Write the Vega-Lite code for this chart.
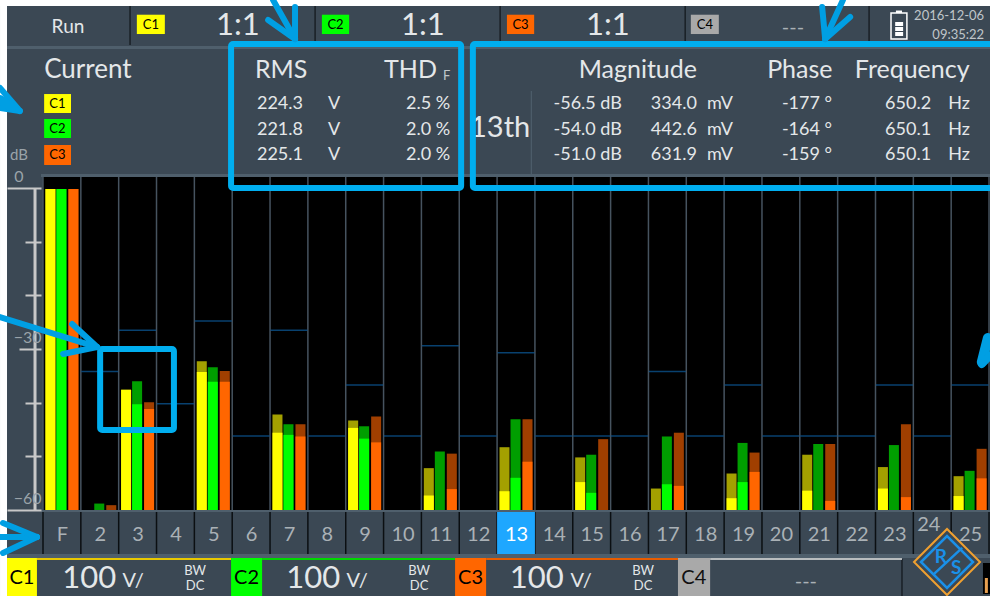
{"$schema":"https://vega.github.io/schema/vega-lite/v6.json","width":947,"height":333,"autosize":{"type":"none"},"padding":{"left":43,"top":177,"right":0,"bottom":86},"background":"#3b4854","view":{"fill":"#000000","stroke":null},
"config":{"font":"Lato","text":{"font":"Lato","baseline":"middle","align":"center","fill":"#e4e7e9","fontSize":18},"rect":{"fill":"#4f5f6c"},"rule":{"stroke":"#009fe3","strokeWidth":6,"strokeCap":"round"}},
"resolve":{"axis":{"x":"independent","y":"independent"}},
"datasets":{"edges":[{"b":0.5},{"b":1.5},{"b":2.5},{"b":3.5},{"b":4.5},{"b":5.5},{"b":6.5},{"b":7.5},{"b":8.5},{"b":9.5},{"b":10.5},{"b":11.5},{"b":12.5},{"b":13.5},{"b":14.5},{"b":15.5},{"b":16.5},{"b":17.5},{"b":18.5},{"b":19.5},{"b":20.5},{"b":21.5},{"b":22.5},{"b":23.5},{"b":24.5},{"b":25.5}],
"limits":[{"h":2,"limit":-34.2},{"h":3,"limit":-26.5},{"h":4,"limit":-40.2},{"h":5,"limit":-24.8},{"h":6,"limit":-46.2},{"h":7,"limit":-26.5},{"h":8,"limit":-46.2},{"h":9,"limit":-36.7},{"h":10,"limit":-46.2},{"h":11,"limit":-29.4},{"h":12,"limit":-46.2},{"h":13,"limit":-30.7},{"h":14,"limit":-46.2},{"h":15,"limit":-46.2},{"h":16,"limit":-46.2},{"h":17,"limit":-34.2},{"h":18,"limit":-46.2},{"h":19,"limit":-36.7},{"h":20,"limit":-46.2},{"h":21,"limit":-46.2},{"h":22,"limit":-46.2},{"h":23,"limit":-36.7},{"h":24,"limit":-46.2},{"h":25,"limit":-36.7}],
"harmonics":[
{"h":1,"ch":"C1","peak":-0.2,"current":-0.2},{"h":1,"ch":"C2","peak":-0.2,"current":-0.2},{"h":1,"ch":"C3","peak":-0.2,"current":-0.2},
{"h":2,"ch":"C2","peak":-58.8,"current":null},{"h":2,"ch":"C3","peak":-59.1,"current":null},
{"h":3,"ch":"C1","peak":-37.6,"current":-37.6},{"h":3,"ch":"C2","peak":-36.0,"current":-40.3},{"h":3,"ch":"C3","peak":-39.9,"current":-41.2},
{"h":5,"ch":"C1","peak":-32.3,"current":-34.3},{"h":5,"ch":"C2","peak":-33.4,"current":-36.1},{"h":5,"ch":"C3","peak":-34.1,"current":-36.1},
{"h":7,"ch":"C1","peak":-42.2,"current":-45.6},{"h":7,"ch":"C2","peak":-44.0,"current":-46.0},{"h":7,"ch":"C3","peak":-44.0,"current":-46.3},
{"h":9,"ch":"C1","peak":-43.3,"current":-44.7},{"h":9,"ch":"C2","peak":-44.4,"current":-46.7},{"h":9,"ch":"C3","peak":-42.6,"current":-47.4},
{"h":11,"ch":"C1","peak":-52.2,"current":-57.3},{"h":11,"ch":"C2","peak":-49.1,"current":null},{"h":11,"ch":"C3","peak":-49.5,"current":-56.1},
{"h":13,"ch":"C1","peak":-48.3,"current":-56.5},{"h":13,"ch":"C2","peak":-43.1,"current":-54.0},{"h":13,"ch":"C3","peak":-43.1,"current":-51.0},
{"h":15,"ch":"C1","peak":-50.2,"current":-54.8},{"h":15,"ch":"C2","peak":-49.7,"current":-56.8},{"h":15,"ch":"C3","peak":-46.8,"current":null},
{"h":17,"ch":"C1","peak":-56.0,"current":null},{"h":17,"ch":"C2","peak":-46.3,"current":-55.2},{"h":17,"ch":"C3","peak":-45.6,"current":-55.5},
{"h":19,"ch":"C1","peak":-53.2,"current":-57.8},{"h":19,"ch":"C2","peak":-47.5,"current":-54.8},{"h":19,"ch":"C3","peak":-49.3,"current":-52.9},
{"h":21,"ch":"C1","peak":-49.7,"current":-56.4},{"h":21,"ch":"C2","peak":-47.7,"current":null},{"h":21,"ch":"C3","peak":-47.7,"current":-58.3},
{"h":23,"ch":"C1","peak":-52.0,"current":-56.0},{"h":23,"ch":"C2","peak":-47.9,"current":null},{"h":23,"ch":"C3","peak":-44.0,"current":-57.6},
{"h":25,"ch":"C1","peak":-53.7,"current":-57.4},{"h":25,"ch":"C2","peak":-52.7,"current":null},{"h":25,"ch":"C3","peak":-48.6,"current":-54.1}]},
"data":{"values":[{}]},
"layer":[
{"data":{"name":"edges"},"mark":{"type":"rule","stroke":"#46535f","strokeWidth":1.5,"strokeCap":"butt"},"encoding":{
"x":{"field":"b","type":"quantitative","title":null,"scale":{"domain":[0.5,25.526],"nice":false,"zero":false,"padding":0},"axis":{"zindex":1,"values":[1,2,3,4,5,6,7,8,9,10,11,12,13,14,15,16,17,18,19,20,21,22,23,24,25],"format":"d","labelExpr":"datum.value==1?'F':datum.label","labelFontSize":20,"labelFont":"Lato","labelColor":{"condition":{"test":"datum.value==13","value":"#ffffff"},"value":"#aab1b6"},"labelPadding":{"condition":{"test":"datum.value==24","value":4},"value":14},"labelOffset":{"condition":{"test":"datum.value==24","value":-4},"value":0},"ticks":false,"domain":false,"grid":false,"labelOverlap":false,"labelFlush":false,"labelBound":false,"title":null}},
"y":{"datum":2.05,"title":null,"scale":{"domain":[-60,2.05],"nice":false,"zero":false},"axis":{"zindex":1,"offset":2,"values":[0,-10,-20,-30,-40,-50,-60],"labelExpr":"datum.value%30==0?datum.label:''","labelFontSize":16,"labelFont":"Lato","labelColor":"#9aa3a9","labelOffset":-12,"labelPadding":{"condition":{"test":"datum.value==0","value":-16},"value":{"expr":"0"}},"domain":false,"grid":false,"tickColor":"#c8c8c8","tickWidth":2,"tickSize":{"condition":[{"test":"datum.value==0||datum.value==-60","value":34},{"test":"datum.value==-30","value":22}],"value":16},"labelOverlap":false,"labelFlush":false,"labelBound":false,"title":null}},
"y2":{"datum":-60}}},
{"data":{"name":"edges"},"mark":{"type":"rule","stroke":"#0b0f12","strokeWidth":1.5,"strokeCap":"butt"},"encoding":{"x":{"field":"b","type":"quantitative","axis":null},"y":{"datum":-60.37,"axis":null},"y2":{"datum":-68.19}}},
{"data":{"name":"limits"},"mark":{"type":"tick","orient":"horizontal","size":37,"thickness":1.5,"color":"#0b5c9e"},"encoding":{"x":{"field":"h","type":"quantitative","axis":null},"y":{"field":"limit","type":"quantitative","axis":null}}},
{"data":{"name":"harmonics"},"transform":[{"filter":"datum.ch=='C1'"}],"mark":{"type":"bar","size":10,"xOffset":-11.5,"color":"#a3a000"},"encoding":{"x":{"field":"h","type":"quantitative","axis":null},"y":{"field":"peak","type":"quantitative","axis":null},"y2":{"datum":-60}}},
{"data":{"name":"harmonics"},"transform":[{"filter":"datum.ch=='C1'&&datum.current!=null"}],"mark":{"type":"bar","size":10,"xOffset":-11.5,"color":"#ffff00"},"encoding":{"x":{"field":"h","type":"quantitative","axis":null},"y":{"field":"current","type":"quantitative","axis":null},"y2":{"datum":-60}}},
{"data":{"name":"harmonics"},"transform":[{"filter":"datum.ch=='C2'"}],"mark":{"type":"bar","size":10,"xOffset":-0.5,"color":"#009e00"},"encoding":{"x":{"field":"h","type":"quantitative","axis":null},"y":{"field":"peak","type":"quantitative","axis":null},"y2":{"datum":-60}}},
{"data":{"name":"harmonics"},"transform":[{"filter":"datum.ch=='C2'&&datum.current!=null"}],"mark":{"type":"bar","size":10,"xOffset":-0.5,"color":"#00ff00"},"encoding":{"x":{"field":"h","type":"quantitative","axis":null},"y":{"field":"current","type":"quantitative","axis":null},"y2":{"datum":-60}}},
{"data":{"name":"harmonics"},"transform":[{"filter":"datum.ch=='C3'"}],"mark":{"type":"bar","size":10,"xOffset":11.5,"color":"#a03f00"},"encoding":{"x":{"field":"h","type":"quantitative","axis":null},"y":{"field":"peak","type":"quantitative","axis":null},"y2":{"datum":-60}}},
{"data":{"name":"harmonics"},"transform":[{"filter":"datum.ch=='C3'&&datum.current!=null"}],"mark":{"type":"bar","size":10,"xOffset":11.5,"color":"#ff6600"},"encoding":{"x":{"field":"h","type":"quantitative","axis":null},"y":{"field":"current","type":"quantitative","axis":null},"y2":{"datum":-60}}},

{"mark":{"type":"rect","fill":"#1ea7ff"},"encoding":{"x":{"datum":12.5,"axis":null},"x2":{"datum":13.5},"y":{"datum":-60.37,"axis":null},"y2":{"datum":-68.19}}},
{"mark":"rect","encoding":{"x":{"datum":-0.451,"axis":null},"x2":{"datum":25.53},"y":{"datum":26.46,"axis":null},"y2":{"datum":25.9}}},
{"mark":"rect","encoding":{"x":{"datum":0.447,"axis":null},"x2":{"datum":25.53},"y":{"datum":2.61,"axis":null},"y2":{"datum":2.05}}},
{"mark":"rect","encoding":{"x":{"datum":0.447,"axis":null},"x2":{"datum":25.53},"y":{"datum":-60,"axis":null},"y2":{"datum":-60.37}}},
{"mark":"rect","encoding":{"x":{"datum":-0.451,"axis":null},"x2":{"datum":25.53},"y":{"datum":-68.19,"axis":null},"y2":{"datum":-68.94}}},
{"mark":"rect","encoding":{"x":{"datum":13.39,"axis":null},"x2":{"datum":13.42},"y":{"datum":18.07,"axis":null},"y2":{"datum":2.42}}},
{"mark":{"type":"rule","stroke":"#c8c8c8","strokeWidth":3,"strokeCap":"butt"},"encoding":{"x":{"datum":0.289,"axis":null},"y":{"datum":0,"axis":null},"y2":{"datum":-60}}},

{"mark":{"type":"rule","stroke":"#11161a","strokeWidth":1.2,"strokeCap":"butt"},"encoding":{"x":{"datum":2.8,"axis":null},"y":{"datum":33.91,"axis":null},"y2":{"datum":26.64}}},
{"mark":{"type":"rule","stroke":"#11161a","strokeWidth":1.2,"strokeCap":"butt"},"encoding":{"x":{"datum":7.69,"axis":null},"y":{"datum":33.91,"axis":null},"y2":{"datum":26.64}}},
{"mark":{"type":"rule","stroke":"#11161a","strokeWidth":1.2,"strokeCap":"butt"},"encoding":{"x":{"datum":12.58,"axis":null},"y":{"datum":33.91,"axis":null},"y2":{"datum":26.64}}},
{"mark":{"type":"rule","stroke":"#11161a","strokeWidth":1.2,"strokeCap":"butt"},"encoding":{"x":{"datum":17.47,"axis":null},"y":{"datum":33.91,"axis":null},"y2":{"datum":26.64}}},
{"mark":{"type":"rule","stroke":"#11161a","strokeWidth":1.2,"strokeCap":"butt"},"encoding":{"x":{"datum":22.33,"axis":null},"y":{"datum":33.91,"axis":null},"y2":{"datum":26.64}}},
{"mark":{"type":"rule","stroke":"#11161a","strokeWidth":1.2,"strokeCap":"butt"},"encoding":{"x":{"datum":23.2,"axis":null},"y":{"datum":-69.13,"axis":null},"y2":{"datum":-76.02}}},

{"mark":{"type":"rect","fill":"#ffff00"},"encoding":{"x":{"datum":2.98,"axis":null},"x2":{"datum":3.72},"y":{"datum":32.29,"axis":null},"y2":{"datum":28.69}}},
{"mark":{"type":"rect","fill":"#00ff00"},"encoding":{"x":{"datum":7.87,"axis":null},"x2":{"datum":8.59},"y":{"datum":32.29,"axis":null},"y2":{"datum":28.69}}},
{"mark":{"type":"rect","fill":"#ff6600"},"encoding":{"x":{"datum":12.76,"axis":null},"x2":{"datum":13.48},"y":{"datum":32.29,"axis":null},"y2":{"datum":28.69}}},
{"mark":{"type":"rect","fill":"#a9a9a9"},"encoding":{"x":{"datum":17.62,"axis":null},"x2":{"datum":18.36},"y":{"datum":32.29,"axis":null},"y2":{"datum":28.69}}},
{"mark":{"type":"rect","fill":"#ffff00"},"encoding":{"x":{"datum":0.53,"axis":null},"x2":{"datum":1.24},"y":{"datum":17.51,"axis":null},"y2":{"datum":13.97}}},
{"mark":{"type":"rect","fill":"#00ff00"},"encoding":{"x":{"datum":0.53,"axis":null},"x2":{"datum":1.24},"y":{"datum":12.86,"axis":null},"y2":{"datum":9.32}}},
{"mark":{"type":"rect","fill":"#ff6600"},"encoding":{"x":{"datum":0.53,"axis":null},"x2":{"datum":1.24},"y":{"datum":8.01,"axis":null},"y2":{"datum":4.29}}},

{"mark":{"type":"rect","fill":"#e8c800"},"encoding":{"x":{"datum":0.34,"axis":null},"x2":{"datum":5.47},"y":{"datum":-68.94,"axis":null},"y2":{"datum":-69.31}}},
{"mark":{"type":"rect","fill":"#00d800"},"encoding":{"x":{"datum":6.29,"axis":null},"x2":{"datum":11.39},"y":{"datum":-68.94,"axis":null},"y2":{"datum":-69.31}}},
{"mark":{"type":"rect","fill":"#e85c00"},"encoding":{"x":{"datum":12.21,"axis":null},"x2":{"datum":17.28},"y":{"datum":-68.94,"axis":null},"y2":{"datum":-69.31}}},
{"mark":{"type":"rect","fill":"#b8bcbe"},"encoding":{"x":{"datum":18.13,"axis":null},"x2":{"datum":23.2},"y":{"datum":-68.94,"axis":null},"y2":{"datum":-69.31}}},
{"mark":{"type":"rect","fill":"#ffff00"},"encoding":{"x":{"datum":-0.451,"axis":null},"x2":{"datum":0.34},"y":{"datum":-68.94,"axis":null},"y2":{"datum":-76.02}}},
{"mark":{"type":"rect","fill":"#00ff00"},"encoding":{"x":{"datum":5.47,"axis":null},"x2":{"datum":6.29},"y":{"datum":-68.94,"axis":null},"y2":{"datum":-76.02}}},
{"mark":{"type":"rect","fill":"#ff6600"},"encoding":{"x":{"datum":11.39,"axis":null},"x2":{"datum":12.21},"y":{"datum":-68.94,"axis":null},"y2":{"datum":-76.02}}},
{"mark":{"type":"rect","fill":"#a9a9a9"},"encoding":{"x":{"datum":17.28,"axis":null},"x2":{"datum":18.13},"y":{"datum":-68.94,"axis":null},"y2":{"datum":-76.02}}},

{"mark":{"type":"text","text":"Run","fontSize":19},"encoding":{"x":{"datum":1.16,"axis":null},"y":{"datum":30,"axis":null}}},
{"mark":{"type":"text","text":"C1","fill":"#000000","fontSize":13},"encoding":{"x":{"datum":3.35,"axis":null},"y":{"datum":30.46,"axis":null}}},
{"mark":{"type":"text","text":"C2","fill":"#000000","fontSize":13},"encoding":{"x":{"datum":8.23,"axis":null},"y":{"datum":30.46,"axis":null}}},
{"mark":{"type":"text","text":"C3","fill":"#000000","fontSize":13},"encoding":{"x":{"datum":13.12,"axis":null},"y":{"datum":30.46,"axis":null}}},
{"mark":{"type":"text","text":"C4","fill":"#000000","fontSize":13},"encoding":{"x":{"datum":17.99,"axis":null},"y":{"datum":30.46,"axis":null}}},
{"mark":{"type":"text","text":"1:1","fontSize":31},"encoding":{"x":{"datum":5.65,"axis":null},"y":{"datum":30.18,"axis":null}}},
{"mark":{"type":"text","text":"1:1","fontSize":31},"encoding":{"x":{"datum":10.54,"axis":null},"y":{"datum":30.18,"axis":null}}},
{"mark":{"type":"text","text":"1:1","fontSize":31},"encoding":{"x":{"datum":15.43,"axis":null},"y":{"datum":30.18,"axis":null}}},
{"mark":{"type":"text","text":"---","fill":"#aab1b6","fontSize":20},"encoding":{"x":{"datum":20.32,"axis":null},"y":{"datum":29.81,"axis":null}}},
{"mark":{"type":"text","text":"2016-12-06","align":"right","fill":"#c0c6ca","fontSize":13},"encoding":{"x":{"datum":25.37,"axis":null},"y":{"datum":32.05,"axis":null}}},
{"mark":{"type":"text","text":"09:35:22","align":"right","fill":"#c0c6ca","fontSize":13},"encoding":{"x":{"datum":25.37,"axis":null},"y":{"datum":28.51,"axis":null}}},
{"mark":{"type":"rect","fill":null,"stroke":"#ffffff","strokeWidth":1.5},"encoding":{"x":{"datum":22.91,"axis":null},"x2":{"datum":23.33},"y":{"datum":32.61,"axis":null},"y2":{"datum":27.76}}},
{"mark":{"type":"rect","fill":"#ffffff"},"encoding":{"x":{"datum":23.04,"axis":null},"x2":{"datum":23.2},"y":{"datum":33.07,"axis":null},"y2":{"datum":32.61}}},
{"mark":{"type":"rect","fill":"#ffffff"},"encoding":{"x":{"datum":23.02,"axis":null},"x2":{"datum":23.23},"y":{"datum":30.93,"axis":null},"y2":{"datum":30.18}}},
{"mark":{"type":"rect","fill":"#ffffff"},"encoding":{"x":{"datum":23.02,"axis":null},"x2":{"datum":23.23},"y":{"datum":30,"axis":null},"y2":{"datum":29.25}}},
{"mark":{"type":"rect","fill":"#ffffff"},"encoding":{"x":{"datum":23.02,"axis":null},"x2":{"datum":23.23},"y":{"datum":29.07,"axis":null},"y2":{"datum":28.32}}},

{"mark":{"type":"text","text":"Current","align":"left","fontSize":26},"encoding":{"x":{"datum":0.53,"axis":null},"y":{"datum":21.99,"axis":null}}},
{"mark":{"type":"text","text":"C1","fill":"#000000","fontSize":13},"encoding":{"x":{"datum":0.88,"axis":null},"y":{"datum":15.65,"axis":null}}},
{"mark":{"type":"text","text":"C2","fill":"#000000","fontSize":13},"encoding":{"x":{"datum":0.88,"axis":null},"y":{"datum":10.99,"axis":null}}},
{"mark":{"type":"text","text":"C3","fill":"#000000","fontSize":13},"encoding":{"x":{"datum":0.88,"axis":null},"y":{"datum":6.15,"axis":null}}},
{"mark":{"type":"text","text":"dB","fill":"#9aa3a9","fontSize":15},"encoding":{"x":{"datum":-0.135,"axis":null},"y":{"datum":6.15,"axis":null}}},

{"mark":{"type":"text","text":"RMS","align":"left","fontSize":25},"encoding":{"x":{"datum":6.1,"axis":null},"y":{"datum":21.99,"axis":null}}},
{"mark":{"type":"text","text":"THD","align":"right","fontSize":25},"encoding":{"x":{"datum":10.91,"axis":null},"y":{"datum":21.99,"axis":null}}},
{"mark":{"type":"text","text":"F","align":"left","fontSize":13,"fill":"#c0c6ca"},"encoding":{"x":{"datum":11.07,"axis":null},"y":{"datum":20.87,"axis":null}}},
{"mark":{"type":"text","text":["224.3","221.8","225.1"],"align":"right","lineHeight":25.5},"encoding":{"x":{"datum":7.37,"axis":null},"y":{"datum":15.65,"axis":null}}},
{"mark":{"type":"text","text":["V","V","V"],"lineHeight":25.5},"encoding":{"x":{"datum":8.19,"axis":null},"y":{"datum":15.65,"axis":null}}},
{"mark":{"type":"text","text":["2.5 %","2.0 %","2.0 %"],"align":"right","lineHeight":25.5},"encoding":{"x":{"datum":11.26,"axis":null},"y":{"datum":15.65,"axis":null}}},

{"mark":{"type":"text","text":"13th","fontSize":29},"encoding":{"x":{"datum":12.58,"axis":null},"y":{"datum":11.18,"axis":null}}},
{"mark":{"type":"text","text":"Magnitude","fontSize":25},"encoding":{"x":{"datum":16.22,"axis":null},"y":{"datum":21.99,"axis":null}}},
{"mark":{"type":"text","text":"Phase","fontSize":25},"encoding":{"x":{"datum":20.5,"axis":null},"y":{"datum":21.99,"axis":null}}},
{"mark":{"type":"text","text":"Frequency","fontSize":25},"encoding":{"x":{"datum":23.47,"axis":null},"y":{"datum":21.99,"axis":null}}},
{"mark":{"type":"text","text":["-56.5 dB","-54.0 dB","-51.0 dB"],"align":"right","lineHeight":25.5},"encoding":{"x":{"datum":15.8,"axis":null},"y":{"datum":15.65,"axis":null}}},
{"mark":{"type":"text","text":["334.0","442.6","631.9"],"align":"right","lineHeight":25.5},"encoding":{"x":{"datum":17.78,"axis":null},"y":{"datum":15.65,"axis":null}}},
{"mark":{"type":"text","text":["mV","mV","mV"],"align":"left","lineHeight":25.5},"encoding":{"x":{"datum":18.05,"axis":null},"y":{"datum":15.65,"axis":null}}},
{"mark":{"type":"text","text":["-177 °","-164 °","-159 °"],"align":"right","lineHeight":25.5},"encoding":{"x":{"datum":21.35,"axis":null},"y":{"datum":15.65,"axis":null}}},
{"mark":{"type":"text","text":["650.2","650.1","650.1"],"align":"right","lineHeight":25.5},"encoding":{"x":{"datum":23.97,"axis":null},"y":{"datum":15.65,"axis":null}}},
{"mark":{"type":"text","text":["Hz","Hz","Hz"],"align":"left","lineHeight":25.5},"encoding":{"x":{"datum":24.42,"axis":null},"y":{"datum":15.65,"axis":null}}},

{"mark":{"type":"text","text":"C1","fill":"#000000","fontSize":20},"encoding":{"x":{"datum":-0.055,"axis":null},"y":{"datum":-72.67,"axis":null}}},
{"mark":{"type":"text","text":"C2","fill":"#000000","fontSize":20},"encoding":{"x":{"datum":5.88,"axis":null},"y":{"datum":-72.67,"axis":null}}},
{"mark":{"type":"text","text":"C3","fill":"#000000","fontSize":20},"encoding":{"x":{"datum":11.8,"axis":null},"y":{"datum":-72.67,"axis":null}}},
{"mark":{"type":"text","text":"C4","fill":"#111111","fontSize":20},"encoding":{"x":{"datum":17.7,"axis":null},"y":{"datum":-72.67,"axis":null}}},
{"mark":{"type":"text","text":"100","fontSize":31},"encoding":{"x":{"datum":1.72,"axis":null},"y":{"datum":-72.9,"axis":null}}},
{"mark":{"type":"text","text":"100","fontSize":31},"encoding":{"x":{"datum":7.64,"axis":null},"y":{"datum":-72.9,"axis":null}}},
{"mark":{"type":"text","text":"100","fontSize":31},"encoding":{"x":{"datum":13.55,"axis":null},"y":{"datum":-72.9,"axis":null}}},
{"mark":{"type":"text","text":"V/","fontSize":20},"encoding":{"x":{"datum":2.88,"axis":null},"y":{"datum":-73.2,"axis":null}}},
{"mark":{"type":"text","text":"V/","fontSize":20},"encoding":{"x":{"datum":8.8,"axis":null},"y":{"datum":-73.2,"axis":null}}},
{"mark":{"type":"text","text":"V/","fontSize":20},"encoding":{"x":{"datum":14.72,"axis":null},"y":{"datum":-73.2,"axis":null}}},
{"mark":{"type":"text","text":"BW","fontSize":13},"encoding":{"x":{"datum":4.52,"axis":null},"y":{"datum":-71.36,"axis":null}}},
{"mark":{"type":"text","text":"DC","fontSize":13},"encoding":{"x":{"datum":4.52,"axis":null},"y":{"datum":-74.16,"axis":null}}},
{"mark":{"type":"text","text":"BW","fontSize":13},"encoding":{"x":{"datum":10.44,"axis":null},"y":{"datum":-71.36,"axis":null}}},
{"mark":{"type":"text","text":"DC","fontSize":13},"encoding":{"x":{"datum":10.44,"axis":null},"y":{"datum":-74.16,"axis":null}}},
{"mark":{"type":"text","text":"BW","fontSize":13},"encoding":{"x":{"datum":16.36,"axis":null},"y":{"datum":-71.36,"axis":null}}},
{"mark":{"type":"text","text":"DC","fontSize":13},"encoding":{"x":{"datum":16.36,"axis":null},"y":{"datum":-74.16,"axis":null}}},
{"mark":{"type":"text","text":"---","fill":"#aab1b6","fontSize":20},"encoding":{"x":{"datum":20.66,"axis":null},"y":{"datum":-73.41,"axis":null}}},

{"mark":{"type":"point","shape":"diamond","size":4356,"filled":true,"fill":"#3b4854","stroke":"#f0a030","strokeWidth":2,"opacity":1},"encoding":{"x":{"datum":24.39,"axis":null},"y":{"datum":-69.69,"axis":null}}},
{"mark":{"type":"point","shape":"diamond","size":2704,"filled":false,"stroke":"#1a90e8","strokeWidth":2.5,"opacity":1},"encoding":{"x":{"datum":24.39,"axis":null},"y":{"datum":-69.69,"axis":null}}},
{"mark":{"type":"rule","stroke":"#1a90e8","strokeWidth":2.5,"strokeCap":"butt"},"encoding":{"x":{"datum":24.79,"axis":null},"x2":{"datum":24.02},"y":{"datum":-67.07,"axis":null},"y2":{"datum":-72.1}}},
{"mark":{"type":"text","text":"R","fill":"#1a90e8","fontSize":19,"fontWeight":"bold"},"encoding":{"x":{"datum":24.23,"axis":null},"y":{"datum":-68.75,"axis":null}}},
{"mark":{"type":"text","text":"S","fill":"#1a90e8","fontSize":19,"fontWeight":"bold"},"encoding":{"x":{"datum":24.63,"axis":null},"y":{"datum":-70.8,"axis":null}}},
{"mark":{"type":"rect","fill":"#000000"},"encoding":{"x":{"datum":25.34,"axis":null},"x2":{"datum":25.53},"y":{"datum":-69.87,"axis":null},"y2":{"datum":-75.65}}},
{"mark":{"type":"rect","fill":"#e8a050"},"encoding":{"x":{"datum":25.39,"axis":null},"x2":{"datum":25.47},"y":{"datum":-72.67,"axis":null},"y2":{"datum":-75.46}}},

{"mark":{"type":"rect","fill":"#ffffff"},"encoding":{"x":{"datum":-0.636,"axis":null},"x2":{"datum":-0.451},"y":{"datum":35.03,"axis":null},"y2":{"datum":-76.02}}},
{"mark":{"type":"rect","fill":"#ffffff"},"encoding":{"x":{"datum":-0.636,"axis":null},"x2":{"datum":25.53},"y":{"datum":35.03,"axis":null},"y2":{"datum":33.91}}},

{"mark":{"type":"rect","fill":null,"stroke":"#00aeef","strokeWidth":6,"cornerRadius":2},"encoding":{"x":{"datum":5.47,"axis":null},"x2":{"datum":11.55},"y":{"datum":26.83,"axis":null},"y2":{"datum":0}}},
{"mark":{"type":"rect","fill":null,"stroke":"#00aeef","strokeWidth":6,"cornerRadius":2},"encoding":{"x":{"datum":11.86,"axis":null},"x2":{"datum":25.79},"y":{"datum":26.83,"axis":null},"y2":{"datum":0}}},
{"mark":{"type":"rect","fill":null,"stroke":"#00aeef","strokeWidth":6,"cornerRadius":2},"encoding":{"x":{"datum":2.01,"axis":null},"x2":{"datum":3.96},"y":{"datum":-30,"axis":null},"y2":{"datum":-45.09}}},

{"mark":"rule","encoding":{"x":{"datum":6.58,"axis":null},"x2":{"datum":7.16},"y":{"datum":35.03,"axis":null},"y2":{"datum":27.76}}},
{"mark":"rule","encoding":{"x":{"datum":7.16,"axis":null},"x2":{"datum":7.16},"y":{"datum":33.72,"axis":null},"y2":{"datum":27.76}}},
{"mark":"rule","encoding":{"x":{"datum":6.45,"axis":null},"x2":{"datum":7.16},"y":{"datum":31.3,"axis":null},"y2":{"datum":27.76}}},
{"mark":"rule","encoding":{"x":{"datum":21.64,"axis":null},"x2":{"datum":21.17},"y":{"datum":35.03,"axis":null},"y2":{"datum":27.76}}},
{"mark":"rule","encoding":{"x":{"datum":21.09,"axis":null},"x2":{"datum":21.17},"y":{"datum":33.72,"axis":null},"y2":{"datum":27.76}}},
{"mark":"rule","encoding":{"x":{"datum":21.83,"axis":null},"x2":{"datum":21.17},"y":{"datum":31.86,"axis":null},"y2":{"datum":27.76}}},
{"mark":{"type":"rule","strokeWidth":6},"encoding":{"x":{"datum":-0.636,"axis":null},"x2":{"datum":-0.11},"y":{"datum":18.63,"axis":null},"y2":{"datum":14.34}}},
{"mark":{"type":"rule","strokeWidth":6},"encoding":{"x":{"datum":-0.636,"axis":null},"x2":{"datum":-0.11},"y":{"datum":14.9,"axis":null},"y2":{"datum":14.34}}},
{"mark":{"type":"rule","strokeWidth":10},"encoding":{"x":{"datum":-0.636,"axis":null},"x2":{"datum":-0.32},"y":{"datum":16.4,"axis":null},"y2":{"datum":15.09}}},
{"mark":"rule","encoding":{"x":{"datum":-0.636,"axis":null},"x2":{"datum":1.93},"y":{"datum":-24.04,"axis":null},"y2":{"datum":-29.63}}},
{"mark":"rule","encoding":{"x":{"datum":1.27,"axis":null},"x2":{"datum":1.93},"y":{"datum":-25.34,"axis":null},"y2":{"datum":-29.63}}},
{"mark":"rule","encoding":{"x":{"datum":1.03,"axis":null},"x2":{"datum":1.93},"y":{"datum":-30.93,"axis":null},"y2":{"datum":-29.63}}},
{"mark":"rule","encoding":{"x":{"datum":-0.636,"axis":null},"x2":{"datum":0.34},"y":{"datum":-65.03,"axis":null},"y2":{"datum":-65.03}}},
{"mark":"rule","encoding":{"x":{"datum":-0.557,"axis":null},"x2":{"datum":0.34},"y":{"datum":-62.42,"axis":null},"y2":{"datum":-65.03}}},
{"mark":"rule","encoding":{"x":{"datum":-0.557,"axis":null},"x2":{"datum":0.34},"y":{"datum":-68.01,"axis":null},"y2":{"datum":-65.03}}},
{"mark":{"type":"rule","strokeWidth":10},"encoding":{"x":{"datum":25.47,"axis":null},"x2":{"datum":25.31},"y":{"datum":-27.95,"axis":null},"y2":{"datum":-32.42}}},
{"mark":{"type":"rule","strokeWidth":8},"encoding":{"x":{"datum":25.53,"axis":null},"x2":{"datum":25.31},"y":{"datum":-31.2,"axis":null},"y2":{"datum":-32.8}}}
]}
